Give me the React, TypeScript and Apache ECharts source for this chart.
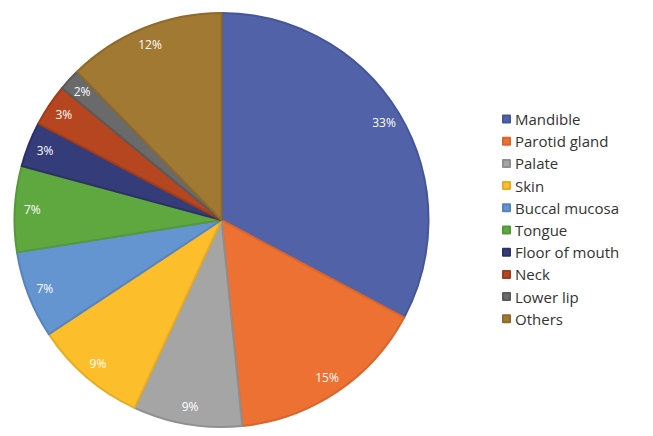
import React, { useEffect, useRef } from "react";
import * as echarts from "echarts";

const categories = ["Mandible", "Parotid gland", "Palate", "Skin", "Buccal mucosa", "Tongue", "Floor of mouth", "Neck", "Lower lip", "Others"];
// slice shares
const values = [32.8, 15.6, 8.5, 8.8, 6.8, 6.7, 3.5, 3.3, 1.7, 12.3];
// percentage labels printed on the slices
const percentLabels = ["33%", "15%", "9%", "9%", "7%", "7%", "3%", "3%", "2%", "12%"];
const colors = ["#5162A8", "#EC7133", "#A5A5A5", "#FDBE2B", "#6595D1", "#5FA83F", "#353C7A", "#B5461F", "#6A6A6A", "#A17932"];
const borders = ["#45559A", "#D9662C", "#8F8F8F", "#E8AC22", "#5684C0", "#559838", "#2C3269", "#A03C1A", "#5A5A5A", "#8E6A2B"];

export default function App() {
  const ref = useRef<HTMLDivElement>(null);
  useEffect(() => {
    const chart = echarts.init(ref.current!, undefined, { renderer: "svg" });
    const data = categories.map((name, i) => ({
      name,
      value: values[i],
      itemStyle: { color: colors[i], borderColor: borders[i], borderWidth: 2 },
    }));
    const labelData = categories.map((name, i) => ({ name, value: values[i], label: { formatter: percentLabels[i] } }));
    chart.setOption({
      animation: false,
      legend: {
        orient: "vertical",
        left: 502,
        top: 111,
        padding: 0,
        itemWidth: 7,
        itemHeight: 7,
        itemGap: 6.2,
        icon: "rect",
        data: categories,
        textStyle: { fontFamily: "Open Sans", fontSize: 15, color: "#333", lineHeight: 16 },
      },
      series: [
        {
          type: "pie",
          center: [221.5, 220],
          radius: [0, 207],
          startAngle: 90,
          clockwise: true,
          data,
          label: { show: false },
          labelLine: { show: false },
          emphasis: { disabled: true },
        },
        {
          type: "pie",
          center: [221.5, 220],
          radius: [166, 207],
          startAngle: 90,
          clockwise: true,
          silent: true,
          legendHoverLink: false,
          data: labelData,
          itemStyle: { color: "rgba(0,0,0,0)" },
          label: {
            show: true,
            position: "inside",
            color: "#fff",
            fontSize: 12,
            fontFamily: "Open Sans",
          },
          labelLine: { show: false },
          emphasis: { disabled: true },
        },
      ],
    });
    return () => chart.dispose();
  }, []);
  return <div ref={ref} style={{ position: "fixed", left: 0, top: 0, width: 653, height: 436, background: "#fff" }} />;
}
